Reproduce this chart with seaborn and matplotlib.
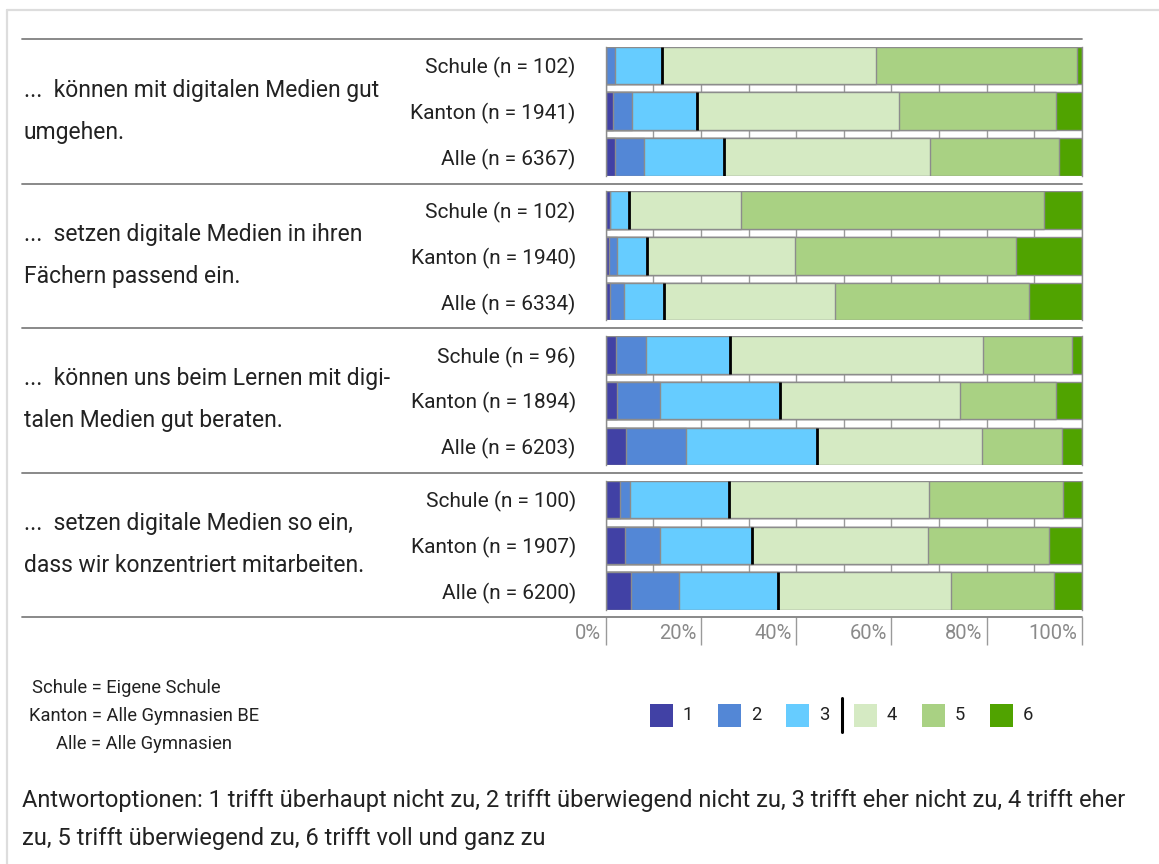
import matplotlib
matplotlib.use("Agg")
import matplotlib.pyplot as plt
from matplotlib.lines import Line2D
from matplotlib.patches import Rectangle
import numpy as np
import pandas as pd
import seaborn as sns

# ---- data -------------------------------------------------------------
statements = [
    ["...  können mit digitalen Medien gut", "umgehen."],
    ["...  setzen digitale Medien in ihren", "Fächern passend ein."],
    ["...  können uns beim Lernen mit digi-", "talen Medien gut beraten."],
    ["...  setzen digitale Medien so ein,", "dass wir konzentriert mitarbeiten."],
]
row_names = ["Schule", "Kanton", "Alle"]
n_values = [
    [102, 1941, 6367],
    [102, 1940, 6334],
    [96, 1894, 6203],
    [100, 1907, 6200],
]
levels = ["1", "2", "3", "4", "5", "6"]

# percentage share per answer option, rows: Schule/Kanton/Alle per statement
share_1 = [0.0, 1.5, 2.0, 1.0, 0.6, 0.9, 2.1, 2.3, 4.3, 3.0, 4.1, 5.4]
share_2 = [2.0, 4.0, 6.0, 0.0, 1.8, 3.0, 6.3, 9.2, 12.5, 2.0, 7.4, 9.9]
share_3 = [9.8, 13.7, 16.9, 3.9, 6.2, 8.3, 17.7, 25.2, 27.5, 21.0, 19.3, 21.0]
share_4 = [45.0, 42.5, 43.2, 23.5, 31.2, 35.9, 53.1, 37.7, 34.7, 42.0, 37.0, 36.3]
share_5 = [42.2, 33.0, 27.1, 63.7, 46.4, 40.8, 18.8, 20.3, 16.9, 28.0, 25.4, 21.5]
share_6 = [1.0, 5.3, 4.8, 7.9, 13.8, 11.1, 2.0, 5.3, 4.1, 4.0, 6.8, 5.9]

x_ticks = [0, 20, 40, 60, 80, 100]

footnotes = ["Schule = Eigene Schule", "Kanton = Alle Gymnasien BE", "Alle = Alle Gymnasien"]
caption = [
    "Antwortoptionen: 1 trifft überhaupt nicht zu, 2 trifft überwiegend nicht zu, "
    "3 trifft eher nicht zu, 4 trifft eher",
    "zu, 5 trifft überwiegend zu, 6 trifft voll und ganz zu",
]

# ---- style ------------------------------------------------------------
colors = ["#4141a5", "#5387d6", "#66ccff", "#d5eac3", "#a9d183", "#50a300"]
edge = "#8c8c8c"
text_c = "#222222"

sns.set_style("white")
plt.rcParams["font.family"] = ["Roboto", "DejaVu Sans"]

W, H = 1159, 864
fig = plt.figure(figsize=(W / 100, H / 100), dpi=100)


def fx(px):
    return px / W


def fy(py):
    return 1 - py / H


shares = np.array([share_1, share_2, share_3, share_4, share_5, share_6]).T
cum = np.cumsum(shares, axis=1)

ax_left, ax_right = 605.7, 1081.7
group_top0, group_step, group_h = 46.7, 144.7, 129.0
bar_h = 0.82

for g, lines in enumerate(statements):
    top = group_top0 + g * group_step
    ax = fig.add_axes([fx(ax_left), fy(top + group_h), fx(ax_right - ax_left), group_h / H])
    rows = [f"{r} (n = {n})" for r, n in zip(row_names, n_values[g])]
    sub = cum[g * 3:(g + 1) * 3]
    df = pd.DataFrame(sub, columns=levels)
    df["row"] = rows
    # stacked bars: draw cumulative totals from the largest down
    for k in range(len(levels) - 1, -1, -1):
        sns.barplot(data=df, x=levels[k], y="row", order=rows, orient="h",
                    color=colors[k], saturation=1, width=bar_h,
                    edgecolor=edge, linewidth=1.0, ax=ax, zorder=2)
    # marker between negative (1-3) and positive (4-6) answers
    ax.vlines(df[levels[2]], np.arange(3) - bar_h / 2, np.arange(3) + bar_h / 2,
              color="black", lw=2.0, zorder=4)
    ax.set_xlim(0, 100)
    ax.set_ylim(2.41, -0.41)
    ax.set_xticks(np.arange(0, 101, 10))
    ax.xaxis.grid(True, color="#9a9a9a", lw=1.0, zorder=0)
    ax.set_axisbelow(True)
    ax.set_xlabel("")
    ax.set_ylabel("")
    ax.tick_params(axis="x", length=0, labelbottom=False)
    ax.tick_params(axis="y", length=0, pad=21.5, labelsize=15, labelcolor=text_c)
    for s in ax.spines.values():
        s.set_color(edge)
        s.set_linewidth(1.0)
    ax.spines["top"].set_visible(False)
    ax.spines["bottom"].set_visible(False)
    center = 39.3 + g * 144.4 + 72.2
    for i, line in enumerate(lines):
        fig.text(fx(24), fy(center - 21.5 + 42 * i), line, ha="left", va="center",
                 fontsize=16.5, color=text_c)

# group separators
for py in [39.3, 184.0, 328.3, 472.7, 616.7]:
    fig.add_artist(Line2D([fx(22), fx(1082)], [fy(py), fy(py)], color="#808080", lw=1.3))

# percentage scale below the chart
sax = fig.add_axes([fx(ax_left), fy(645), fx(ax_right - ax_left), 28 / H])
sax.set_xlim(0, 100)
sax.set_ylim(0, 1)
sax.axis("off")
sax.vlines(x_ticks, 0, 1, color="#9a9a9a", lw=1.0, clip_on=False)
for t in x_ticks:
    sax.text(t - 0.9, 0.42, f"{t}%", ha="right", va="center", fontsize=14.5, color="#8a8a8a")

# footnotes
for txt, px, py in zip(footnotes, [32, 29, 56], [688, 716, 744]):
    fig.text(fx(px), fy(py), txt, ha="left", va="center", fontsize=13.2, color=text_c)

# legend
leg_x = [650, 718, 786, 854, 922, 990]
sq = 22.7
for k, lab in enumerate(levels):
    fig.add_artist(Rectangle((fx(leg_x[k]), fy(726.7)), fx(sq), sq / H,
                             facecolor=colors[k], edgecolor="none"))
    fig.text(fx(leg_x[k] + 33), fy(715.5), lab, ha="left", va="center",
             fontsize=13.2, color=text_c)
fig.add_artist(Line2D([fx(842.3), fx(842.3)], [fy(698), fy(731.7)], color="black", lw=2.2))

# caption
for txt, py in zip(caption, [801, 838]):
    fig.text(fx(22), fy(py), txt, ha="left", va="center", fontsize=17, color=text_c)

# outer frame
fig.add_artist(Line2D([fx(7), fx(W)], [fy(10), fy(10)], color="#dddddd", lw=1.6))
fig.add_artist(Line2D([fx(7), fx(7)], [fy(10), fy(H)], color="#dddddd", lw=1.6))

fig.savefig("out.png", dpi=100)
